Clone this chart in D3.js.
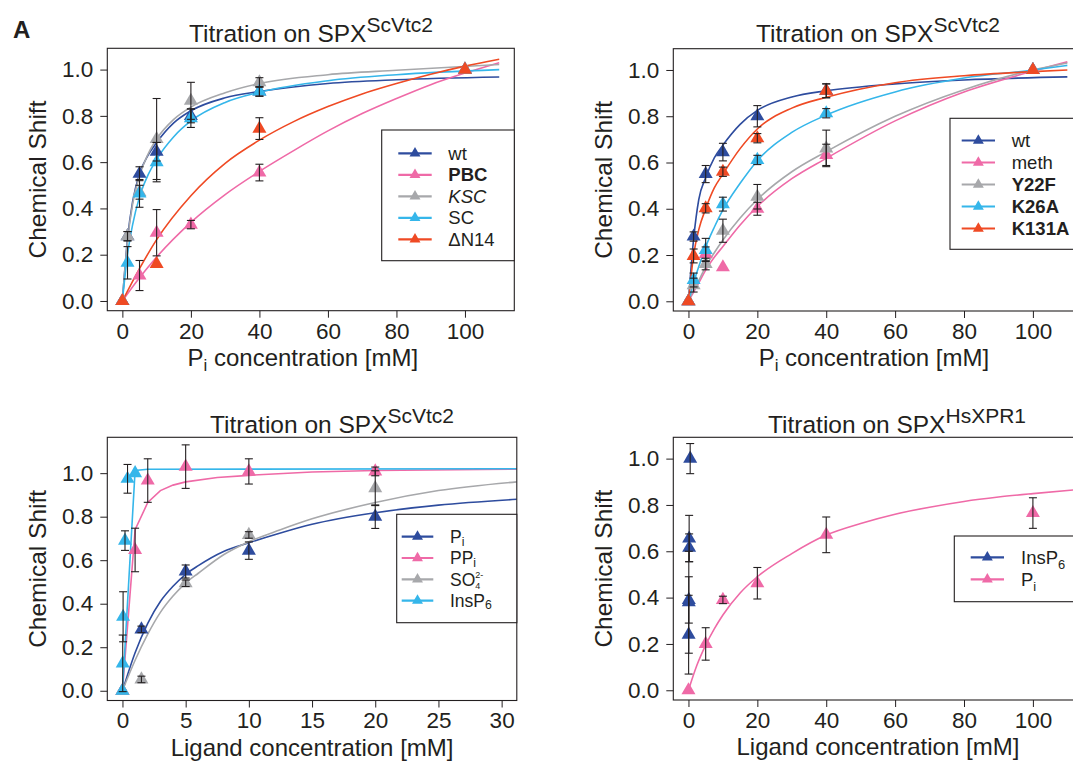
<!DOCTYPE html>
<html><head><meta charset="utf-8">
<script src="https://cdn.jsdelivr.net/npm/d3@7"></script>
<style>
body{margin:0;background:#fff;}
svg{display:block;font-family:"Liberation Sans",Arial,Helvetica,sans-serif;}
</style></head><body>
<svg id="chart" width="1073" height="762"></svg>
<script>
// ================= DATA =================
// points: [concentration, chemical shift, error]
// ---- Panel 1: Pi titration, SPX ScVtc2 variants ----
const p1Labels = ["wt", "PBC", "KSC", "SC", "ΔN14"];
const p1_wt   = [[0,0,0],[1.5,0.28,0.02],[5,0.55,0.03],[10,0.645,0.04],[20,0.80,0.03],[40,0.905,0.02],[100,1.0,0]];
const p1_PBC  = [[0,0,0],[5,0.11,0.065],[10,0.295,0.1],[20,0.33,0.018],[40,0.555,0.036],[100,1.0,0]];
const p1_KSC  = [[0,0,0],[1.5,0.28,0.02],[5,0.47,0.03],[10,0.70,0.175],[20,0.865,0.08],[40,0.945,0.02],[100,1.0,0]];
const p1_SC   = [[0,0,0],[1.5,0.165,0.07],[5,0.465,0.06],[10,0.60,0.085],[20,0.79,0.04],[40,0.905,0.02],[100,1.0,0]];
const p1_dN14 = [[0,0,0],[10,0.16,0],[40,0.745,0.047],[100,1.0,0]];
const p1_wt_fit   = [[0,0],[1.5,0.27],[3,0.43],[5,0.55],[7.5,0.63],[10,0.685],[15,0.77],[20,0.822],[30,0.878],[40,0.905],[60,0.94],[80,0.956],[110,0.968]];
const p1_PBC_fit  = [[0,0],[5,0.1],[10,0.19],[20,0.34],[30,0.46],[40,0.56],[50,0.65],[60,0.735],[70,0.81],[80,0.875],[90,0.935],[100,0.985],[110,1.03]];
const p1_KSC_fit  = [[0,0],[1.5,0.26],[3,0.42],[5,0.54],[7.5,0.635],[10,0.70],[15,0.785],[20,0.838],[30,0.9],[40,0.94],[60,0.978],[80,0.997],[110,1.022]];
const p1_SC_fit   = [[0,0],[1.5,0.2],[3,0.33],[5,0.45],[7.5,0.545],[10,0.612],[15,0.71],[20,0.778],[30,0.858],[40,0.902],[60,0.952],[80,0.978],[110,1.0]];
const p1_dN14_fit = [[0,0],[5,0.14],[10,0.265],[20,0.455],[30,0.595],[40,0.695],[50,0.775],[60,0.84],[70,0.895],[80,0.94],[90,0.98],[100,1.015],[110,1.045]];

// ---- Panel 2: Pi titration, SPX ScVtc2 point mutants ----
const p2Labels = ["wt", "meth", "Y22F", "K26A", "K131A"];
const p2_wt    = [[0,0,0],[1.5,0.28,0.02],[5,0.55,0.037],[10,0.645,0.038],[20,0.80,0.046],[40,0.91,0.03],[100,1.0,0]];
const p2_meth  = [[0,0,0],[5,0.205,0.03],[10,0.147,0],[20,0.40,0.028],[40,0.633,0.046],[100,1.0,0]];
const p2_Y22F  = [[0,0,0],[1.5,0.07,0.03],[5,0.161,0.025],[10,0.305,0.05],[20,0.452,0.053],[40,0.661,0.079],[100,1.0,0]];
const p2_K26A  = [[0,0,0],[1.5,0.092,0.03],[5,0.222,0.05],[10,0.42,0.03],[20,0.611,0.02],[40,0.813,0.02],[100,1.0,0]];
const p2_K131A = [[0,0,0],[1.5,0.196,0.03],[5,0.402,0.02],[10,0.56,0.02],[20,0.705,0.02],[40,0.91,0.03],[100,1.0,0]];
const p2_wt_fit    = [[0,0],[1.5,0.27],[3,0.44],[5,0.535],[7.5,0.62],[10,0.675],[15,0.765],[20,0.825],[30,0.883],[40,0.91],[60,0.94],[80,0.957],[110,0.97]];
const p2_meth_fit  = [[0,0],[1.5,0.04],[3,0.08],[5,0.135],[7.5,0.19],[10,0.237],[15,0.33],[20,0.41],[30,0.53],[40,0.618],[60,0.78],[80,0.905],[100,0.995],[110,1.035]];
const p2_Y22F_fit  = [[0,0],[1.5,0.05],[3,0.09],[5,0.15],[7.5,0.21],[10,0.265],[15,0.36],[20,0.44],[30,0.56],[40,0.647],[60,0.8],[80,0.915],[100,1.0],[110,1.03]];
const p2_K26A_fit  = [[0,0],[1.5,0.08],[3,0.15],[5,0.235],[7.5,0.32],[10,0.395],[15,0.51],[20,0.608],[30,0.73],[40,0.805],[60,0.905],[80,0.965],[100,1.0],[110,1.02]];
const p2_K131A_fit = [[0,0],[1.5,0.2],[3,0.31],[5,0.4],[7.5,0.49],[10,0.55],[15,0.66],[20,0.745],[30,0.835],[40,0.882],[60,0.945],[80,0.975],[100,0.993],[110,1.0]];

// ---- Panel 3: ligand titration on SPX ScVtc2 ----
const p3_Pi    = [[0,0,0],[1.5,0.282,0.015],[5,0.548,0.03],[10,0.644,0.04],[20,0.80,0.054]];
const p3_PPi   = [[0,0,0],[1,0.647,0.1],[2,0.966,0.1],[5,1.03,0.1],[10,1.008,0.058],[20,1.008,0.02]];
const p3_SO4   = [[0,0,0],[1.5,0.052,0.015],[5,0.494,0.015],[10,0.716,0.015],[20,0.931,0.08]];
const p3_InsP6 = [[0,0,0],[0.02,0.126,0.13],[0.05,0.34,0.115],[0.2,0.69,0.045],[0.4,0.974,0.066],[1,1.0,0]];
const p3_Pi_fit    = [[0,0],[1,0.175],[2,0.31],[3,0.41],[4,0.48],[5,0.535],[6,0.575],[8,0.64],[10,0.68],[12.5,0.725],[15,0.765],[20,0.818],[25,0.853],[31.2,0.88]];
const p3_PPi_fit   = [[0,0],[1,0.74],[2,0.865],[3,0.92],[4,0.945],[5,0.96],[7.5,0.98],[10,0.99],[15,1.005],[20,1.012],[31.2,1.018]];
const p3_SO4_fit   = [[0,0],[1,0.14],[2,0.26],[3,0.36],[4,0.435],[5,0.495],[6,0.54],[8,0.625],[10,0.685],[12.5,0.74],[15,0.79],[20,0.865],[25,0.92],[31.2,0.96]];
const p3_InsP6_fit = [[0,0],[1,1.012],[2,1.018],[31.2,1.02]];

// ---- Panel 4: ligand titration on SPX HsXPR1 ----
const p4_InsP6 = [[0.5,1.0,0.065],[0.2,0.655,0.1],[0.2,0.615,0.06],[0.1,0.39,0.1],[0.1,0.38,0.22],[0.05,0.24,0.17]];
const p4_Pi    = [[0,0,0],[5,0.2,0.07],[10,0.39,0.016],[20,0.462,0.068],[40,0.671,0.077],[100,0.765,0.066]];
const p4_Pi_fit = [[0,0],[2.5,0.11],[5,0.195],[7.5,0.265],[10,0.325],[15,0.42],[20,0.49],[30,0.59],[40,0.67],[50,0.72],[60,0.76],[70,0.79],[80,0.815],[90,0.834],[100,0.849],[112,0.865]];

// tick values
const yTicks = [0, 0.2, 0.4, 0.6, 0.8, 1.0];
const xTicksPi = [0, 20, 40, 60, 80, 100];
const xTicksLig = [0, 5, 10, 15, 20, 25, 30];

// ================= STYLE =================
const C = {blue:"#2e4c9e", pink:"#ef6aa7", gray:"#a7a8ab", cyan:"#35b6ea", red:"#ef4a24"};
const INK = "#231f20";
const svg = d3.select("#chart");
const tri = d3.symbol().type(d3.symbolTriangle);

svg.append("text").attr("x",13).attr("y",38).attr("font-size",24).attr("font-weight","bold").attr("fill",INK).text("A");

// rich label made from separate text pieces (sub/superscripts)
function richPieces(g, x, y, segs, size, attrs, subDy){
  let cx = x;
  segs.forEach(s=>{
    let fs = size, dy = 0, adv = true;
    if (s[1]==="sub") { fs = size*0.7; dy = subDy; }
    else if (s[1]==="sub4") { fs = 9; dy = 3; adv = false; }
    else if (s[1]==="sup2") { fs = 9; dy = -8; }
    const t = g.append("text").attr("x",cx).attr("y",y+dy).attr("font-size",fs).attr("fill",INK).text(s[0]);
    if (attrs) Object.entries(attrs).forEach(([k,v])=>{ if (v) t.attr(k,v); });
    const w = t.node().getComputedTextLength();
    if (adv) cx += w;
  });
}

function drawPanel(cfg){
  const x = d3.scaleLinear().domain(cfg.xDomain).range([cfg.left, cfg.right]);
  const y = d3.scaleLinear().domain(cfg.yDomain).range([cfg.bottom, cfg.top]);
  const g = svg.append("g");
  const clipId = "clip" + cfg.id;
  svg.append("clipPath").attr("id", clipId).append("rect")
    .attr("x", cfg.left).attr("y", cfg.top).attr("width", cfg.right-cfg.left).attr("height", cfg.bottom-cfg.top);

  const xa = g.append("g").attr("transform", `translate(0,${cfg.bottom})`)
    .call(d3.axisBottom(x).tickValues(cfg.xTicks).tickSize(7).tickPadding(5).tickFormat(d3.format("d")));
  const ya = g.append("g").attr("transform", `translate(${cfg.left},0)`)
    .call(d3.axisLeft(y).tickValues(yTicks).tickSize(7).tickPadding(7).tickFormat(d3.format(".1f")));
  [xa, ya].forEach(a=>{
    a.select(".domain").remove();
    a.selectAll("text").attr("font-size",22.5).attr("fill",INK).attr("font-family",null);
    a.selectAll("line").attr("stroke",INK);
  });

  // title
  const t = g.append("text").attr("x", cfg.titleX).attr("y", cfg.titleY)
    .attr("text-anchor","middle").attr("font-size",24.5).attr("fill",INK);
  t.append("tspan").text("Titration on SPX");
  t.append("tspan").attr("font-size",21).attr("dy",-10).text(cfg.titleSup);

  // axis labels
  g.append("text").attr("transform", `translate(${cfg.left-61},${(cfg.top+cfg.bottom)/2}) rotate(-90)`)
    .attr("text-anchor","middle").attr("font-size",24.5).attr("fill",INK).text("Chemical Shift");
  const xl = g.append("text").attr("x", (cfg.left+cfg.right)/2 + cfg.xlabDx).attr("y", cfg.bottom+55)
    .attr("text-anchor","middle").attr("font-size",24).attr("fill",INK);
  cfg.xlabel.forEach(s=>{
    const ts = xl.append("tspan").text(s[0]);
    if (s[1]==="sub") ts.attr("font-size",17).attr("dy",5);
    if (s[1]==="back") ts.attr("dy",-5);
  });

  // fitted curves
  const line = d3.line().x(d=>x(d[0])).y(d=>y(d[1]));
  cfg.series.forEach(s=>{
    if (!s.fit) return;
    g.append("path").datum(s.fit).attr("clip-path",`url(#${clipId})`)
      .attr("fill","none").attr("stroke",s.color).attr("stroke-width",1.6)
      .attr("d", line.curve(s.linear ? d3.curveLinear : d3.curveMonotoneX));
  });
  // points
  cfg.series.forEach(s=>{
    g.append("g").selectAll("path").data(s.pts).join("path")
      .attr("transform", d=>`translate(${x(d[0])},${y(d[1])})`)
      .attr("d", tri.size(85)()).attr("fill", s.color);
  });
  // error bars
  const eb = g.append("g").attr("stroke", INK).attr("stroke-width",1.1).attr("fill","none");
  cfg.series.forEach(s=>{
    s.pts.filter(d=>d[2]>0).forEach(d=>{
      const cx = x(d[0]), y0 = y(d[1]-d[2]), y1 = y(d[1]+d[2]);
      eb.append("line").attr("x1",cx).attr("x2",cx).attr("y1",y0).attr("y2",y1);
      eb.append("line").attr("x1",cx-4).attr("x2",cx+4).attr("y1",y0).attr("y2",y0);
      eb.append("line").attr("x1",cx-4).attr("x2",cx+4).attr("y1",y1).attr("y2",y1);
    });
  });
  // box
  g.append("rect").attr("x",cfg.left).attr("y",cfg.top).attr("width",cfg.right-cfg.left).attr("height",cfg.bottom-cfg.top)
    .attr("fill","none").attr("stroke",INK).attr("stroke-width",1.1);

  // legend
  const L = cfg.legend;
  const lg = g.append("g");
  lg.append("rect").attr("x",L.x0).attr("y",L.y0).attr("width",L.x1-L.x0).attr("height",L.y1-L.y0)
    .attr("fill","#fff").attr("stroke",INK).attr("stroke-width",1.1);
  L.rows.forEach((r,i)=>{
    const ry = L.rowY[i];
    lg.append("line").attr("x1",L.lx0).attr("x2",L.lx1).attr("y1",ry).attr("y2",ry)
      .attr("stroke",r.color).attr("stroke-width",2.2);
    lg.append("path").attr("transform",`translate(${(L.lx0+L.lx1)/2},${ry})`)
      .attr("d", tri.size(52)()).attr("fill", r.color);
    const segs = Array.isArray(r.label) ? r.label : [[r.label]];
    richPieces(lg, L.tx, ry+6.3, segs, L.fs || 18.5,
      {"font-weight": r.bold ? "bold" : null, "font-style": r.italic ? "italic" : null}, L.subDy || 5);
  });
}

const piLabel = [["P"],["i","sub"],[" concentration [mM]","back"]];
const ligLabel = [["Ligand concentration [mM]"]];

// Panel 1
drawPanel({
  id:1, left:107.3, right:514.3, top:48.3, bottom:310.7, xDomain:[-4.4,114.4], yDomain:[-0.042,1.092],
  xTicks:xTicksPi, titleX:311, titleY:42, titleSup:"ScVtc2", xlabel:piLabel, xlabDx:-8,
  series:[
    {pts:p1_wt, fit:p1_wt_fit, color:C.blue},
    {pts:p1_PBC, fit:p1_PBC_fit, color:C.pink},
    {pts:p1_KSC, fit:p1_KSC_fit, color:C.gray},
    {pts:p1_SC, fit:p1_SC_fit, color:C.cyan},
    {pts:p1_dN14, fit:p1_dN14_fit, color:C.red}
  ],
  legend:{x0:381.7, y0:130, x1:514.3, y1:260.7, lx0:398.3, lx1:431.7, tx:448.3,
    rowY:[153.3,174.8,196.3,217.8,239.3],
    rows:[
      {label:p1Labels[0], color:C.blue},
      {label:p1Labels[1], color:C.pink, bold:true},
      {label:p1Labels[2], color:C.gray, italic:true},
      {label:p1Labels[3], color:C.cyan},
      {label:p1Labels[4], color:C.red}
    ]}
});

// Panel 2
drawPanel({
  id:2, left:673.3, right:1082.5, top:48.7, bottom:311, xDomain:[-4.4,114.4], yDomain:[-0.042,1.092],
  xTicks:xTicksPi, titleX:878, titleY:42, titleSup:"ScVtc2", xlabel:piLabel, xlabDx:-4,
  series:[
    {pts:p2_wt, fit:p2_wt_fit, color:C.blue},
    {pts:p2_meth, fit:p2_meth_fit, color:C.pink},
    {pts:p2_Y22F, fit:p2_Y22F_fit, color:C.gray},
    {pts:p2_K26A, fit:p2_K26A_fit, color:C.cyan},
    {pts:p2_K131A, fit:p2_K131A_fit, color:C.red}
  ],
  legend:{x0:950, y0:118.3, x1:1082.5, y1:249.3, lx0:961.7, lx1:995, tx:1011.7,
    rowY:[140.5,162.5,184.5,206.5,228.5],
    rows:[
      {label:p2Labels[0], color:C.blue},
      {label:p2Labels[1], color:C.pink},
      {label:p2Labels[2], color:C.gray, bold:true},
      {label:p2Labels[3], color:C.cyan, bold:true},
      {label:p2Labels[4], color:C.red, bold:true}
    ]}
});

// Panel 3
drawPanel({
  id:3, left:107.3, right:516.8, top:437.3, bottom:700.5, xDomain:[-1.2,31.2], yDomain:[-0.0448,1.1648],
  xTicks:xTicksLig, titleX:332, titleY:433, titleSup:"ScVtc2", xlabel:ligLabel, xlabDx:0,
  series:[
    {pts:p3_Pi, fit:p3_Pi_fit, color:C.blue},
    {pts:p3_PPi, fit:p3_PPi_fit, color:C.pink, linear:true},
    {pts:p3_SO4, fit:p3_SO4_fit, color:C.gray},
    {pts:p3_InsP6, fit:p3_InsP6_fit, color:C.cyan, linear:true}
  ],
  legend:{x0:396.7, y0:514.3, x1:516.8, y1:622.7, lx0:401.7, lx1:433.3, tx:450, fs:17.5, subDy:2.5,
    rowY:[536.7,558,579.3,600.6],
    rows:[
      {label:[["P"],["i","sub"]], color:C.blue},
      {label:[["PP"],["i","sub"]], color:C.pink},
      {label:[["SO"],["4","sub4"],["2-","sup2"]], color:C.gray},
      {label:[["InsP"],["6","sub"]], color:C.cyan}
    ]}
});

// Panel 4
drawPanel({
  id:4, left:673.3, right:1082.5, top:437.3, bottom:700, xDomain:[-4.4,114.4], yDomain:[-0.042,1.092],
  xTicks:xTicksPi, titleX:897, titleY:433, titleSup:"HsXPR1", xlabel:ligLabel, xlabDx:0,
  series:[
    {pts:p4_InsP6, fit:null, color:C.blue},
    {pts:p4_Pi, fit:p4_Pi_fit, color:C.pink}
  ],
  legend:{x0:954.3, y0:536, x1:1082.5, y1:601.7, lx0:970.7, lx1:1004, tx:1021,
    rowY:[557.3,579.3],
    rows:[
      {label:[["InsP"],["6","sub"]], color:C.blue},
      {label:[["P"],["i","sub"]], color:C.pink}
    ]}
});
</script>
</body></html>
